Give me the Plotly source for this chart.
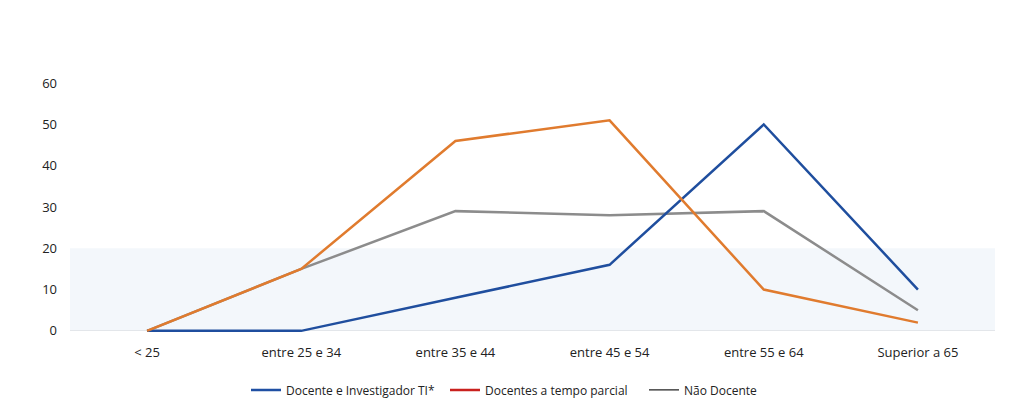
import plotly.graph_objects as go

categories = ["< 25", "entre 25 e 34", "entre 35 e 44", "entre 45 e 54", "entre 55 e 64", "Superior a 65"]
docente_ti = [0, 0, 8, 16, 50, 10]
docente_parcial = [0, 15, 46, 51, 10, 2]
nao_docente = [0, 15, 29, 28, 29, 5]
y_ticks = [0, 10, 20, 30, 40, 50, 60]

series_names = ["Docente e Investigador TI*", "Docentes a tempo parcial", "Não Docente"]
line_colors = ["#1f4e9e", "#e07b2e", "#8c8c8c"]
legend_colors = ["#1f4fa3", "#c9211e", "#222222"]

fig = go.Figure()

# background band (light blue tint in the lower part)
fig.add_shape(type="rect", xref="paper", yref="y", x0=0, x1=1, y0=0, y1=20,
              fillcolor="#f3f7fb", line_width=0, layer="below")

for vals, name, col in [(nao_docente, series_names[2], line_colors[2]),
                        (docente_ti, series_names[0], line_colors[0]),
                        (docente_parcial, series_names[1], line_colors[1])]:
    fig.add_trace(go.Scatter(x=categories, y=vals, mode="lines", name=name,
                             line=dict(color=col, width=2.5), showlegend=False,
                             hoverinfo="x+y+name"))

for name, col, w in zip(series_names, legend_colors, [2.5, 2.5, 1.4]):
    fig.add_trace(go.Scatter(x=[None], y=[None], mode="lines", name=name,
                             line=dict(color=col, width=w), showlegend=True))

fig.update_layout(
    width=1014, height=402,
    margin=dict(l=62, r=27, t=71, b=75),
    paper_bgcolor="white", plot_bgcolor="white",
    font=dict(family="Open Sans", size=13, color="#222222"),
    showlegend=True,
    legend=dict(orientation="h", x=(238 - 62) / 925, xanchor="left", yref="container",
                y=0.05, yanchor="middle", font=dict(size=12),
                itemwidth=30, traceorder="normal",
                entrywidth=154, entrywidthmode="pixels"),
    xaxis=dict(type="category", range=[-0.5, 5.5], showgrid=False, showline=False,
               ticks="", ticklabelstandoff=8, zeroline=False, automargin=False),
    yaxis=dict(range=[-1, 61], tickvals=y_ticks, showgrid=False, showline=False,
               zeroline=True, zerolinecolor="#e3e6ea", zerolinewidth=1,
               ticks="", ticklabelstandoff=12, automargin=False),
)

fig.write_html("out.html")
